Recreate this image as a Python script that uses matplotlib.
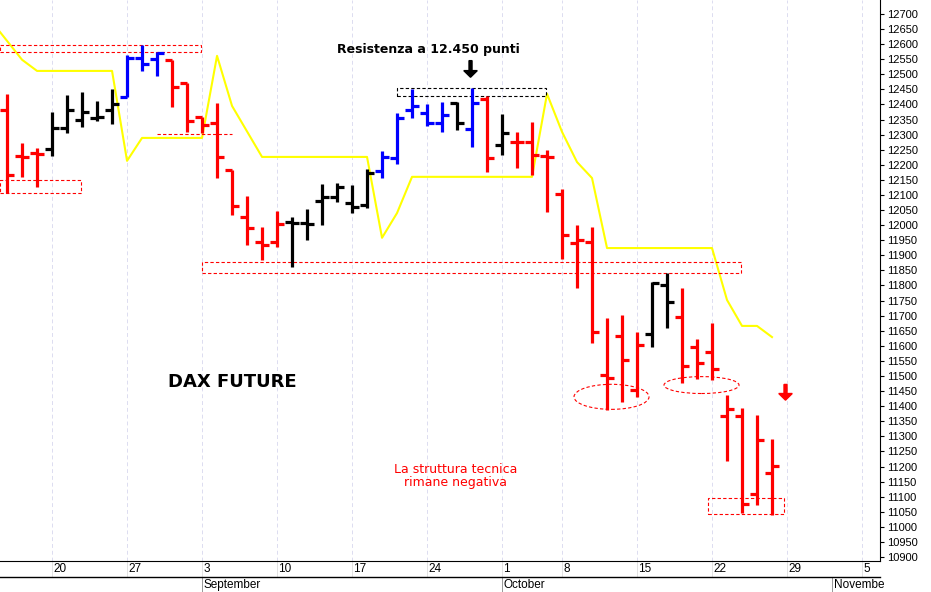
import matplotlib.pyplot as plt
from matplotlib.patches import Rectangle, Ellipse, FancyArrow
from matplotlib.transforms import blended_transform_factory

plt.rcParams['font.family'] = ['Liberation Sans', 'DejaVu Sans']

# OHLC bars, one per trading day from Aug 15 (index 0)
opens = [12382, 12229, 12239, 12253, 12322, 12349, 12355, 12382, 12425, 12554,
         12551, 12548, 12471, 12359, 12339, 12183, 12027, 11944, 11944, 12011,
         12007, 12080, 12093, 12073, 12067, 12180, 12223, 12382, 12372, 12339,
         12405, 12319, 12418, 12266, 12276, 12276, 12229, 12103, 11941, 11944,
         11503, 11633, 11454, 11639, 11802, 11696, 11596, 11580, 11368, 11368,
         11109, 11179]
highs = [12435, 12272, 12256, 12375, 12432, 12441, 12412, 12451, 12564, 12597,
         12574, 12548, 12471, 12359, 12405, 12183, 12097, 11994, 12047, 12027,
         12054, 12137, 12140, 12133, 12186, 12246, 12372, 12451, 12402, 12408,
         12408, 12455, 12428, 12369, 12309, 12342, 12249, 12120, 12001, 11994,
         11692, 11702, 11646, 11812, 11842, 11792, 11623, 11676, 11437, 11394,
         11371, 11291]
lows = [12107, 12160, 12127, 12229, 12306, 12325, 12345, 12335, 12425, 12511,
        12494, 12392, 12309, 12306, 12156, 12034, 11934, 11885, 11928, 11861,
        11951, 12001, 12077, 12040, 12057, 12156, 12203, 12355, 12329, 12309,
        12316, 12259, 12176, 12233, 12190, 12166, 12044, 11888, 11792, 11610,
        11387, 11414, 11431, 11596, 11659, 11477, 11490, 11487, 11218, 11046,
        11073, 11039]
closes = [12166, 12226, 12236, 12322, 12382, 12375, 12359, 12402, 12554, 12534,
          12571, 12458, 12345, 12332, 12226, 12064, 11991, 11934, 12004, 12007,
          12004, 12093, 12127, 12060, 12173, 12226, 12355, 12395, 12339, 12365,
          12339, 12405, 12223, 12306, 12276, 12233, 12226, 11967, 11951, 11646,
          11493, 11553, 11603, 11808, 11745, 11533, 11543, 11523, 11391, 11076,
          11288, 11202]
colors = (['red'] * 3 + ['black'] * 5 + ['blue'] * 3 + ['red'] * 8 + ['black'] * 6
          + ['blue'] * 5 + ['black', 'blue', 'red', 'black'] + ['red'] * 9
          + ['black'] * 2 + ['red'] * 7)

# trailing stop line
stop_idx = [-1, 1, 2, 7, 8, 9, 13, 14, 15, 17, 24, 25, 26, 27, 35, 36, 37, 38, 39, 40, 47, 48, 49, 50, 51]
stop_val = [12673, 12548, 12511, 12511, 12213, 12289, 12289, 12561, 12395, 12226, 12226,
            11958, 12040, 12160, 12160, 12435, 12309, 12209, 12156, 11924, 11924, 11752,
            11666, 11666, 11629]

week_idx = [3, 8, 13, 18, 23, 28, 33, 37, 42, 47, 52, 57]
week_lbl = ['20', '27', '3', '10', '17', '24', '1', '8', '15', '22', '29', '5']
month_idx = [13, 33, 55]
month_lbl = ['September', 'October', 'Novembe']

fig = plt.figure(figsize=(9.31, 5.92), dpi=100)
ax = fig.add_axes([0, 31 / 592, 880 / 931, 561 / 592])
ax.set_xlim(-0.47, 58.2)
ax.set_ylim(10887, 12746)

for k in week_idx:
    ax.axvline(k, color='#dcdcf0', lw=0.7, ls=(0, (4, 3)), zorder=0)

for i, (o, h, l, c, col) in enumerate(zip(opens, highs, lows, closes, colors)):
    ax.plot([i, i], [l, h], color=col, lw=2.3, solid_capstyle='butt')
    ax.plot([i - 0.45, i], [o, o], color=col, lw=2.3, solid_capstyle='butt')
    ax.plot([i, i + 0.45], [c, c], color=col, lw=2.3, solid_capstyle='butt')

ax.plot(stop_idx, stop_val, color='#ffff00', lw=1.5, zorder=1)

# annotation boxes
red_boxes = [(-0.47, 12575, 13.4, 22), (-0.47, 12106, 5.4, 45),
             (13, 11842, 35.9, 36), (46.7, 11043, 5.1, 53)]
for x0, y0, w, hgt in red_boxes:
    ax.add_patch(Rectangle((x0, y0), w, hgt, fill=False, ec='red', lw=0.8, ls=(0, (3, 2))))
ax.plot([10, 15], [12302, 12302], color='red', lw=0.8, ls=(0, (3, 2)))
ax.add_patch(Rectangle((26, 12428), 9.9, 27, fill=False, ec='black', lw=0.8, ls=(0, (3, 2))))
ax.add_patch(Ellipse((40.3, 11431), 5, 83, fill=False, ec='red', lw=0.8, ls=(0, (3, 2))))
ax.add_patch(Ellipse((46.3, 11470), 5, 56, fill=False, ec='red', lw=0.8, ls=(0, (3, 2))))

ax.add_patch(FancyArrow(30.9, 12545, 0, -55, width=0.2, head_width=0.9, head_length=22,
                        length_includes_head=True, color='black'))
ax.add_patch(FancyArrow(51.9, 11472, 0, -52, width=0.2, head_width=0.9, head_length=22,
                        length_includes_head=True, color='red'))

ax.text(28.1, 12581, 'Resistenza a 12.450 punti', ha='center', va='center',
        fontsize=9, fontweight='bold', family='DejaVu Sans')
ax.text(15, 11480, 'DAX FUTURE', ha='center', va='center', fontsize=13,
        fontweight='bold', family='DejaVu Sans')
ax.text(29.9, 11169, 'La struttura tecnica\nrimane negativa', ha='center', va='center',
        fontsize=9, color='red', linespacing=1.0, family='DejaVu Sans')

# right price axis
ax.yaxis.tick_right()
ax.set_yticks(range(10900, 12701, 50))
ax.tick_params(axis='y', labelsize=8, length=3, pad=2)
ax.set_xticks([])
for s in ['top', 'left']:
    ax.spines[s].set_visible(False)

# date rows below the axis
tr = blended_transform_factory(ax.transData, fig.transFigure)
for k, lbl in zip(week_idx, week_lbl):
    ax.text(k + 0.1, 23 / 592, lbl, transform=tr, fontsize=8.5, ha='left', va='center', clip_on=False)
    ax.plot([k, k], [15 / 592, 31 / 592], transform=tr, color='#dddddd', lw=0.6, clip_on=False)
for k, lbl in zip(month_idx, month_lbl):
    ax.text(k + 0.1, 7 / 592, lbl, transform=tr, fontsize=8.5, ha='left', va='center', clip_on=False)
    ax.plot([k, k], [0, 15 / 592], transform=tr, color='#888888', lw=0.6, clip_on=False)
fig.add_artist(plt.Line2D([0, 880 / 931], [15 / 592, 15 / 592], color='black', lw=1))

fig.savefig('out.png', dpi=100)
